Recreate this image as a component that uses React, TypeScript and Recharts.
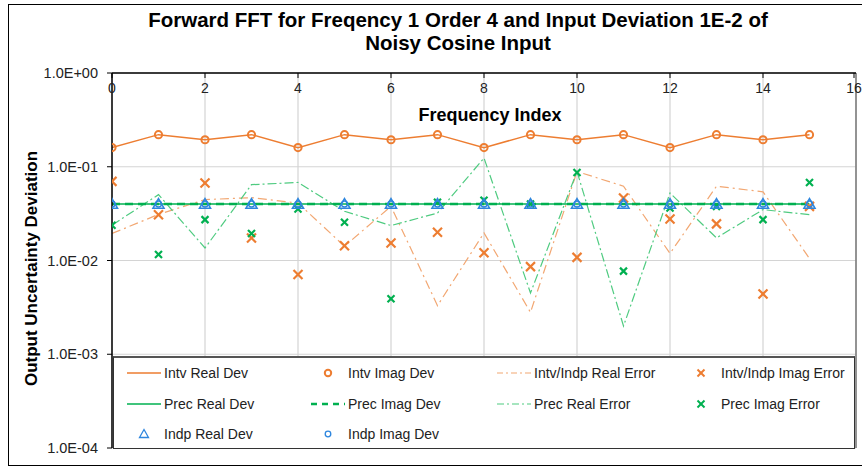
import {
  CartesianGrid,
  ComposedChart,
  Legend,
  Line,
  ReferenceLine,
  XAxis,
  YAxis,
} from 'recharts';

// frequency index (x) and the series
const frequencyIndex = [0, 1, 2, 3, 4, 5, 6, 7, 8, 9, 10, 11, 12, 13, 14, 15];
const xTicks = [0, 2, 4, 6, 8, 10, 12, 14, 16];
const yTicks = [1e-4, 1e-3, 1e-2, 1e-1, 1];

const intvRealDev = [0.16, 0.22, 0.194, 0.22, 0.16, 0.22, 0.194, 0.22, 0.16, 0.22, 0.194, 0.22, 0.16, 0.22, 0.194, 0.22];
const intvImagDev = [0.16, 0.22, 0.194, 0.22, 0.16, 0.22, 0.194, 0.22, 0.16, 0.22, 0.194, 0.22, 0.16, 0.22, 0.194, 0.22];
const intvRealError = [0.0194, 0.031, 0.0446, 0.0468, 0.041, 0.0142, 0.0378, 0.0033, 0.0197, 0.0028, 0.089, 0.062, 0.0119, 0.062, 0.054, 0.0105];
const intvImagError = [0.0698, 0.0308, 0.067, 0.0174, 0.0071, 0.0144, 0.0154, 0.02, 0.0121, 0.0086, 0.0108, 0.0464, 0.0277, 0.0246, 0.0044, 0.0378];
const precRealDev = [0.04, 0.04, 0.04, 0.04, 0.04, 0.04, 0.04, 0.04, 0.04, 0.04, 0.04, 0.04, 0.04, 0.04, 0.04, 0.04];
const precImagDev = [0.04, 0.04, 0.04, 0.04, 0.04, 0.04, 0.04, 0.04, 0.04, 0.04, 0.04, 0.04, 0.04, 0.04, 0.04, 0.04];
const precRealError = [0.0238, 0.0504, 0.0136, 0.0644, 0.068, 0.0335, 0.0236, 0.0321, 0.124, 0.0045, 0.089, 0.002, 0.0525, 0.0174, 0.0349, 0.0308];
const precImagError = [0.0238, 0.0116, 0.0273, 0.0194, 0.0355, 0.0256, 0.0039, 0.0418, 0.0439, 0.04, 0.087, 0.0077, 0.0363, 0.0378, 0.0273, 0.068];
const indpRealDev = [0.04, 0.04, 0.04, 0.04, 0.04, 0.04, 0.04, 0.04, 0.04, 0.04, 0.04, 0.04, 0.04, 0.04, 0.04, 0.04];
const indpImagDev = [0.04, 0.04, 0.04, 0.04, 0.04, 0.04, 0.04, 0.04, 0.04, 0.04, 0.04, 0.04, 0.04, 0.04, 0.04, 0.04];

const data = frequencyIndex.map((f, i) => ({
  f,
  intvRealDev: intvRealDev[i],
  intvImagDev: intvImagDev[i],
  intvRealError: intvRealError[i],
  intvImagError: intvImagError[i],
  precRealDev: precRealDev[i],
  precImagDev: precImagDev[i],
  precRealError: precRealError[i],
  precImagError: precImagError[i],
  indpRealDev: indpRealDev[i],
  indpImagDev: indpImagDev[i],
}));

const ORANGE = '#ED7D31';
const ORANGE_LIGHT = '#F2A772';
const GREEN = '#00B050';
const GREEN_LIGHT = '#4FCB80';
const BLUE = '#2E86DE';
const FONT = '"Liberation Sans", Arial, sans-serif';

const formatSci = (v: number) => {
  const e = Math.round(Math.log10(v));
  return `1.0E${e < 0 ? '-' : '+'}${String(Math.abs(e)).padStart(2, '0')}`;
};

const crossDot = (color: string, half: number, sw: number) => (props: any) => {
  const { cx, cy, index } = props;
  if (cx == null || cy == null) return <g key={`n-${index}`} />;
  return (
    <g key={`x-${color}-${index}`}>
      <line x1={cx - half} y1={cy - half} x2={cx + half} y2={cy + half} stroke={color} strokeWidth={sw} />
      <line x1={cx - half} y1={cy + half} x2={cx + half} y2={cy - half} stroke={color} strokeWidth={sw} />
    </g>
  );
};

const circleDot = (color: string, r: number, sw: number) => (props: any) => {
  const { cx, cy, index } = props;
  if (cx == null || cy == null) return <g key={`n-${index}`} />;
  return <circle key={`c-${color}-${r}-${index}`} cx={cx} cy={cy} r={r} fill="none" stroke={color} strokeWidth={sw} />;
};

const triangleDot = (props: any) => {
  const { cx, cy, index } = props;
  if (cx == null || cy == null) return <g key={`n-${index}`} />;
  const s = 5.5;
  return (
    <path
      key={`t-${index}`}
      d={`M${cx},${cy - s} L${cx + s},${cy + s * 0.75} L${cx - s},${cy + s * 0.75} Z`}
      fill="none"
      stroke={BLUE}
      strokeWidth={1.6}
    />
  );
};

const renderXTick = ({ x, y, payload }: any) => (
  <g>
    <line x1={x} x2={x} y1={y} y2={y + 5} stroke="#000" />
    <text x={x} y={y + 20} textAnchor="middle" fontSize={14} fill="#222" fontFamily={FONT}>
      {payload.value}
    </text>
  </g>
);

const renderXLabel = ({ viewBox }: any) => (
  <text
    x={viewBox.x + viewBox.width / 2 + 6}
    y={viewBox.y + viewBox.height + 48}
    textAnchor="middle"
    fontSize={18}
    fontWeight="bold"
    fill="#000"
    fontFamily={FONT}
  >
    Frequency Index
  </text>
);

const renderYLabel = ({ viewBox }: any) => {
  const cx = viewBox.x + 23;
  const cy = viewBox.y + viewBox.height / 2 + 8;
  return (
    <text
      x={cx}
      y={cy}
      transform={`rotate(-90 ${cx} ${cy})`}
      textAnchor="middle"
      dominantBaseline="central"
      fontSize={17}
      fontWeight="bold"
      fill="#000"
      fontFamily={FONT}
    >
      Output Uncertainty Deviation
    </text>
  );
};

type LegendItem = { name: string; kind: string; color: string; dash?: string; width?: number };

const legendRows: LegendItem[][] = [
  [
    { name: 'Intv Real Dev', kind: 'line', color: ORANGE, width: 1.5 },
    { name: 'Intv Imag Dev', kind: 'circle', color: ORANGE },
    { name: 'Intv/Indp Real Error', kind: 'line', color: ORANGE_LIGHT, dash: '6 3 2 3', width: 1.2 },
    { name: 'Intv/Indp Imag Error', kind: 'cross', color: ORANGE },
  ],
  [
    { name: 'Prec Real Dev', kind: 'line', color: GREEN, width: 1.5 },
    { name: 'Prec Imag Dev', kind: 'line', color: GREEN, dash: '6 5', width: 2.5 },
    { name: 'Prec Real Error', kind: 'line', color: GREEN_LIGHT, dash: '7 3 2 3', width: 1.2 },
    { name: 'Prec Imag Error', kind: 'cross', color: GREEN },
  ],
  [
    { name: 'Indp Real Dev', kind: 'triangle', color: BLUE },
    { name: 'Indp Imag Dev', kind: 'smallCircle', color: BLUE },
  ],
];

const colLeft = [13, 197, 383, 570];

const LegendSymbol = ({ item }: { item: LegendItem }) => (
  <svg width={34} height={14} style={{ display: 'block' }}>
    {item.kind === 'line' && (
      <line x1={0} x2={34} y1={7} y2={7} stroke={item.color} strokeWidth={item.width} strokeDasharray={item.dash} />
    )}
    {item.kind === 'circle' && <circle cx={17} cy={7} r={3.2} fill="none" stroke={item.color} strokeWidth={2} />}
    {item.kind === 'smallCircle' && <circle cx={17} cy={7} r={2.8} fill="none" stroke={item.color} strokeWidth={1.3} />}
    {item.kind === 'cross' && (
      <g stroke={item.color} strokeWidth={2}>
        <line x1={13.5} y1={3.5} x2={20.5} y2={10.5} />
        <line x1={13.5} y1={10.5} x2={20.5} y2={3.5} />
      </g>
    )}
    {item.kind === 'triangle' && (
      <path d="M17,2.5 L21.5,10.5 L12.5,10.5 Z" fill="none" stroke={item.color} strokeWidth={1.3} />
    )}
  </svg>
);

const renderLegend = () => (
  <div
    style={{
      position: 'relative',
      width: 742,
      height: 93,
      boxSizing: 'border-box',
      background: '#fff',
      border: '1.5px solid #333',
      borderTop: '2px solid #555',
      fontFamily: FONT,
      fontSize: 14,
      color: '#222',
    }}
  >
    {legendRows.map((row, r) =>
      row.map((item, c) => (
        <div
          key={item.name}
          style={{
            position: 'absolute',
            left: colLeft[c],
            top: 6 + r * 30.5,
            display: 'flex',
            alignItems: 'center',
            gap: 3,
            whiteSpace: 'nowrap',
            lineHeight: '18px',
          }}
        >
          <LegendSymbol item={item} />
          <span>{item.name}</span>
        </div>
      ))
    )}
  </div>
);

export default function App() {
  return (
    <div
      style={{
        position: 'absolute',
        left: 0,
        top: 0,
        width: 862,
        height: 466,
        background: '#fff',
        fontFamily: FONT,
      }}
    >
      <div
        style={{
          position: 'absolute',
          left: 8,
          top: 4,
          width: 870,
          height: 460,
          border: '1.5px solid #000',
        }}
      />
      <div
        style={{
          position: 'absolute',
          left: 55,
          width: 806,
          top: 8,
          textAlign: 'center',
          fontWeight: 'bold',
          fontSize: 20.5,
          lineHeight: '23px',
          color: '#000',
          whiteSpace: 'nowrap',
        }}
      >
        Forward FFT for Freqency 1 Order 4 and Input Deviation 1E-2 of
        <br />
        Noisy Cosine Input
      </div>
      <ComposedChart
        width={862}
        height={466}
        data={data}
        margin={{ top: 43, right: 6, bottom: 18, left: 8 }}
        style={{ position: 'absolute', left: 0, top: 0 }}
      >
        <CartesianGrid stroke="#d4d4d4" strokeWidth={1.2} />
        <XAxis
          type="number"
          dataKey="f"
          orientation="top"
          domain={[0, 16]}
          ticks={xTicks}
          height={30}
          tickSize={0}
          tickMargin={0}
          tickLine={false}
          tick={renderXTick}
          axisLine={{ stroke: '#000', strokeWidth: 1.5 }}
          label={renderXLabel}
          allowDataOverflow
        />
        <YAxis
          type="number"
          scale="log"
          domain={[1e-4, 1]}
          ticks={yTicks}
          width={104}
          allowDataOverflow
          tickFormatter={formatSci}
          tickSize={5}
          tickMargin={9}
          tickLine={{ stroke: '#000' }}
          axisLine={{ stroke: '#000', strokeWidth: 1.5 }}
          tick={{ fontSize: 14.5, fill: '#222', fontFamily: FONT }}
          label={renderYLabel}
        />
        <ReferenceLine x={16} stroke="#777" strokeWidth={1.5} />
        <Line
          dataKey="intvRealError"
          name="Intv/Indp Real Error"
          stroke={ORANGE_LIGHT}
          strokeWidth={1.2}
          strokeDasharray="9 4 2 4"
          dot={false}
          isAnimationActive={false}
        />
        <Line
          dataKey="precRealError"
          name="Prec Real Error"
          stroke={GREEN_LIGHT}
          strokeWidth={1.2}
          strokeDasharray="9 3 2 3"
          dot={false}
          isAnimationActive={false}
        />
        <Line
          dataKey="intvRealDev"
          name="Intv Real Dev"
          stroke={ORANGE}
          strokeWidth={1.5}
          dot={false}
          isAnimationActive={false}
        />
        <Line
          dataKey="precRealDev"
          name="Prec Real Dev"
          stroke={GREEN}
          strokeWidth={1.5}
          dot={false}
          isAnimationActive={false}
        />
        <Line
          dataKey="precImagDev"
          name="Prec Imag Dev"
          stroke={GREEN}
          strokeWidth={2.5}
          strokeDasharray="8 5"
          dot={false}
          isAnimationActive={false}
        />
        <Line
          dataKey="intvImagDev"
          name="Intv Imag Dev"
          stroke="none"
          dot={circleDot(ORANGE, 3.6, 2)}
          isAnimationActive={false}
        />
        <Line
          dataKey="intvImagError"
          name="Intv/Indp Imag Error"
          stroke="none"
          dot={crossDot(ORANGE, 4.5, 2.2)}
          isAnimationActive={false}
        />
        <Line
          dataKey="precImagError"
          name="Prec Imag Error"
          stroke="none"
          dot={crossDot(GREEN, 3.5, 2.2)}
          isAnimationActive={false}
        />
        <Line
          dataKey="indpRealDev"
          name="Indp Real Dev"
          stroke="none"
          dot={triangleDot}
          isAnimationActive={false}
        />
        <Line
          dataKey="indpImagDev"
          name="Indp Imag Dev"
          stroke="none"
          dot={circleDot(BLUE, 3, 1.4)}
          isAnimationActive={false}
        />
        <Legend
          layout="horizontal"
          verticalAlign="middle"
          align="center"
          content={renderLegend}
          wrapperStyle={{ left: 113, top: 356, width: 742, height: 93 }}
        />
      </ComposedChart>
    </div>
  );
}
